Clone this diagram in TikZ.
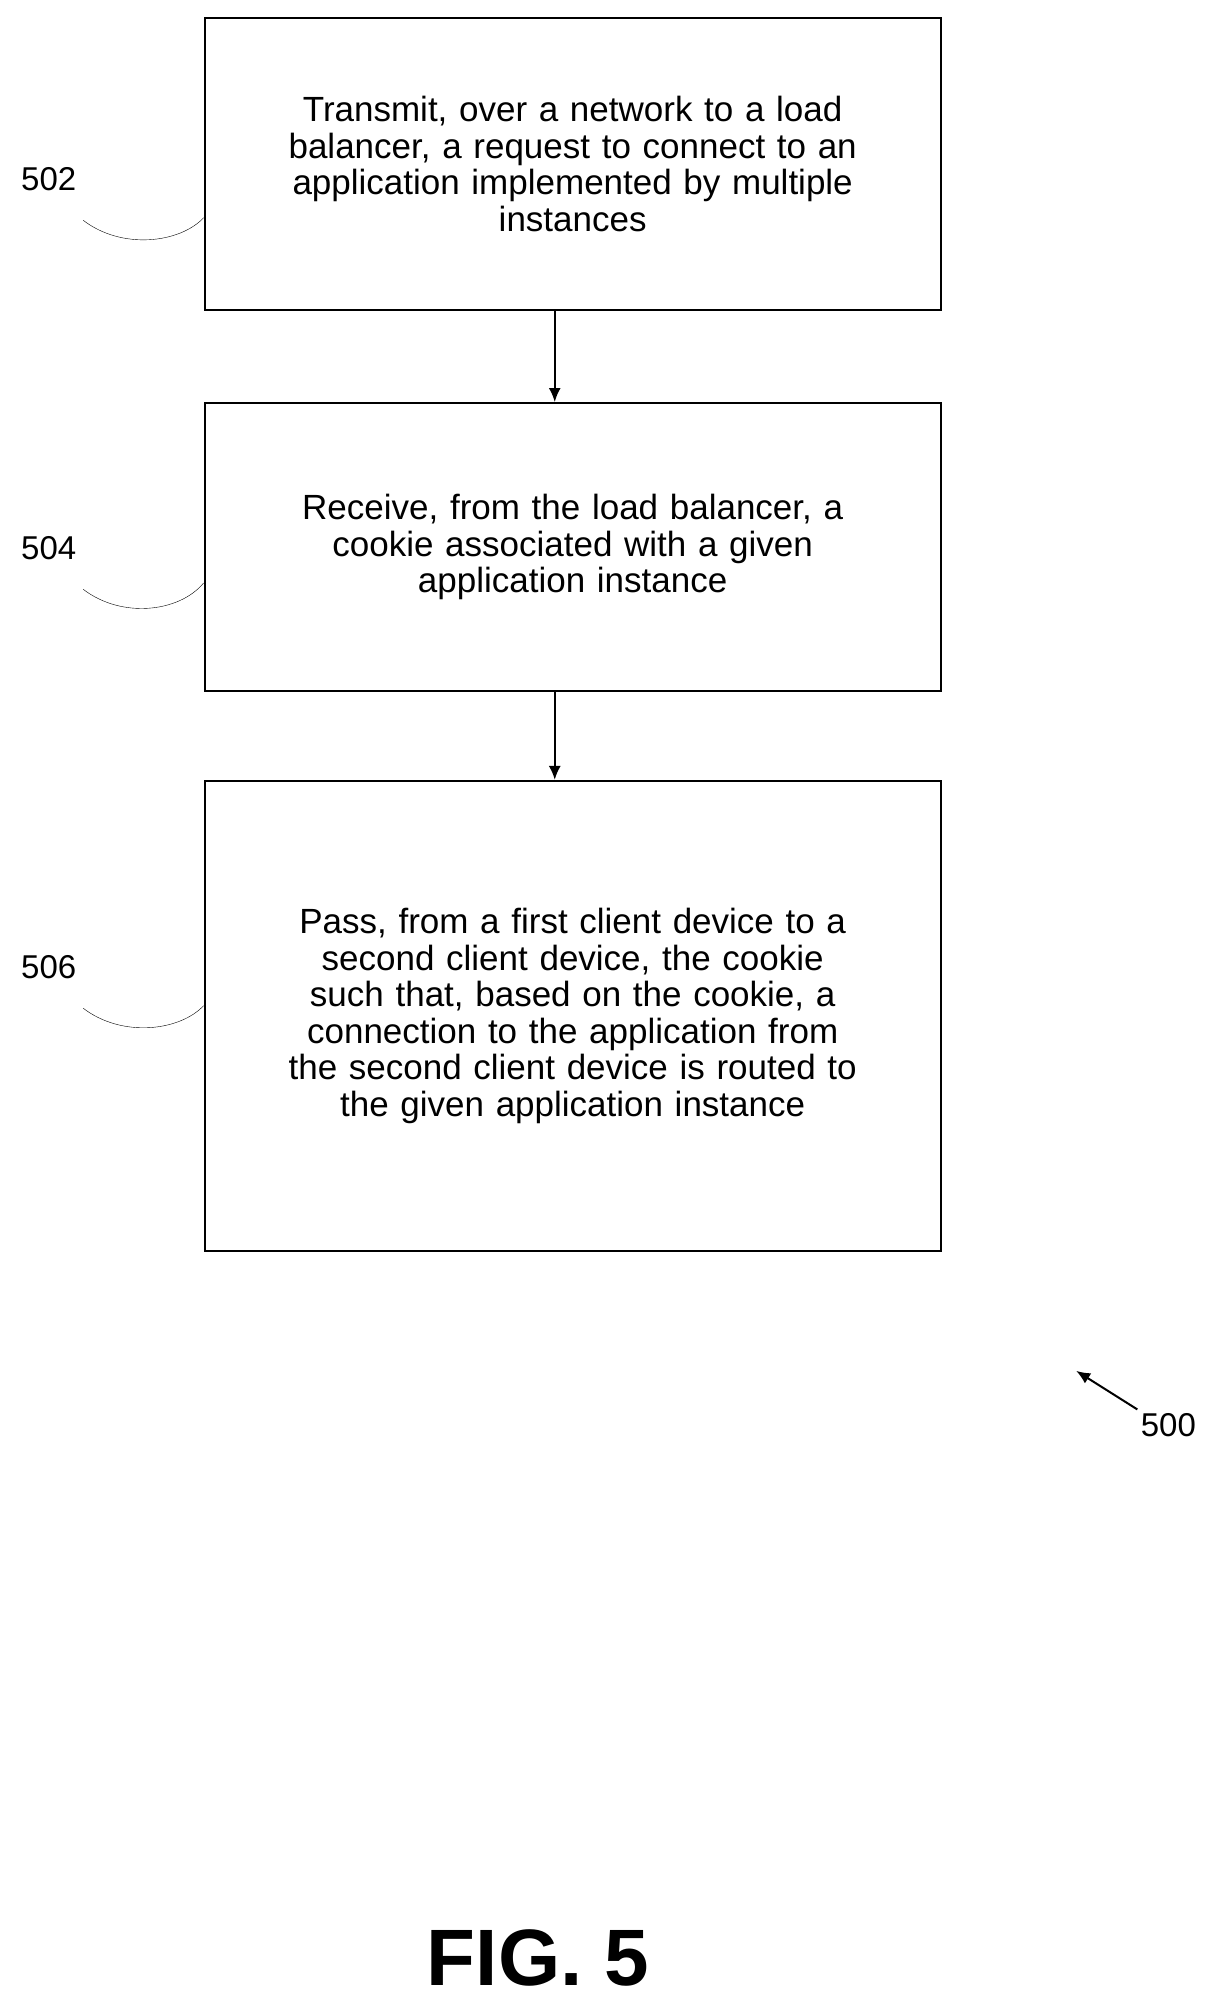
\documentclass[tikz,border=0pt]{standalone}
\usepackage{fontspec}
\setmainfont{Liberation Sans}
\usetikzlibrary{positioning,arrows.meta}
\begin{document}
\begin{tikzpicture}[x=1.281pt,y=-1.281pt,
  flowbox/.style={draw, rectangle, line width=2pt, minimum width=736pt, align=center, font=\fontsize{35}{36.5}\selectfont, text width=700pt},
  lbl/.style={font=\fontsize{33}{36}\selectfont},
  flow/.style={-{Latex[length=14pt,width=12pt]}, line width=2pt}]
\useasboundingbox (0,0) rectangle (950,1565);
\node[flowbox, minimum height=291pt] (transmit) at (447,128) {Transmit, over a network to a load\\balancer, a request to connect to an\\application implemented by multiple\\instances};
\node[flowbox, minimum height=288pt] (receive) at (447,427) {Receive, from the load balancer, a\\cookie associated with a given\\application instance};
\node[flowbox, minimum height=470pt] (pass) at (447,793) {Pass, from a first client device to a\\second client device, the cookie\\such that, based on the cookie, a\\connection to the application from\\the second client device is routed to\\the given application instance};

\draw[flow] (transmit.south -| 433,0) -- (receive.north -| 433,0);
\draw[flow] (receive.south -| 433,0) -- (pass.north -| 433,0);

\node[lbl] (l502) at (38,140) {502};
\node[lbl] (l504) at (38,428) {504};
\node[lbl] (l506) at (38,755) {506};
\draw (65,172) .. controls (95,195) and (140,190) .. (transmit.west |- 0,170);
\draw (65,460) .. controls (95,483) and (140,478) .. (receive.west |- 0,455);
\draw (65,787) .. controls (95,810) and (140,805) .. (pass.west |- 0,785);

\node[lbl] (l500) at (912,1112) {500};
\coordinate (tip) at (840,1070);
\draw[flow] (l500.north west) -- (tip);

\node[font=\bfseries\fontsize{80}{86}\selectfont] (fig) at (420,1528) {FIG. 5};
\end{tikzpicture}
\end{document}
